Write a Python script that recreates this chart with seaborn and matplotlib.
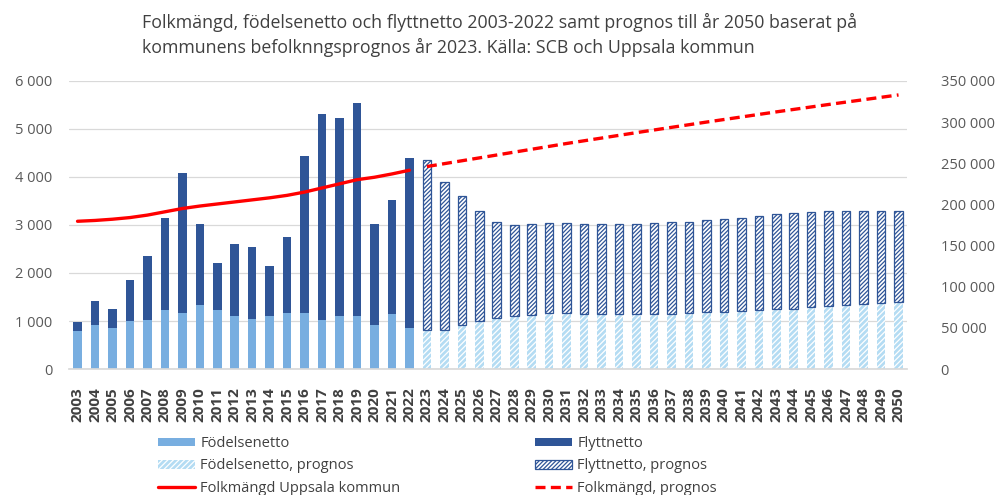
import matplotlib
matplotlib.use("Agg")
import matplotlib.pyplot as plt
import matplotlib.patches as mpatches
from matplotlib.lines import Line2D
from matplotlib.ticker import FuncFormatter, MultipleLocator
import pandas as pd
import seaborn as sns

# ---- data -------------------------------------------------------------
years_hist = [str(y) for y in range(2003, 2023)]
years_prog = [str(y) for y in range(2023, 2051)]

fodelsenetto = [790, 920, 860, 990, 1030, 1220, 1160, 1330, 1220, 1110,
                1040, 1110, 1170, 1170, 1020, 1110, 1110, 920, 1140, 850]
flyttnetto = [190, 500, 380, 870, 1320, 1930, 2920, 1700, 990, 1490,
              1500, 1030, 1590, 3260, 4300, 4120, 4430, 2090, 2370, 3550]

fodelsenetto_prognos = [810, 810, 910, 1010, 1060, 1100, 1130, 1170, 1170, 1150,
                        1150, 1150, 1150, 1150, 1150, 1170, 1180, 1190, 1210, 1220,
                        1250, 1260, 1290, 1310, 1340, 1350, 1380, 1390]
flyttnetto_prognos = [3550, 3080, 2690, 2290, 2010, 1890, 1890, 1870, 1870, 1860,
                      1860, 1860, 1870, 1890, 1910, 1900, 1920, 1940, 1940, 1960,
                      1970, 1980, 1980, 1980, 1960, 1950, 1920, 1910]

folkmangd = [179500, 180500, 182000, 184000, 187000, 191000, 195000, 198000,
             200500, 203000, 205500, 208000, 211000, 215000, 220000, 225000,
             230000, 233000, 237000, 241500]
folkmangd_prognos = [246000, 249500, 253000, 256500, 260000, 263500, 267000,
                     270500, 274000, 277300, 280600, 283900, 287200, 290400,
                     293600, 296800, 300000, 303100, 306200, 309300, 312400,
                     315400, 318400, 321400, 324300, 327200, 330100, 333000]

title_lines = ["Folkmängd, födelsenetto och flyttnetto 2003-2022 samt prognos till år 2050 baserat på",
               "kommunens befolknngsprognos år 2023. Källa: SCB och Uppsala kommun"]

all_years = years_hist + years_prog

hist = pd.DataFrame({"year": years_hist, "fodd": fodelsenetto, "flytt": flyttnetto})
prog = pd.DataFrame({"year": years_prog, "fodd": fodelsenetto_prognos, "flytt": flyttnetto_prognos})

# ---- style ------------------------------------------------------------
sns.set_theme(style="white")
plt.rcParams["font.family"] = ["Open Sans", "DejaVu Sans"]
plt.rcParams["hatch.linewidth"] = 0.9

C_FODD = "#78AEE0"
C_FLYTT = "#2F5597"
C_FODD_P = "#B4DCF3"
C_FLYTT_P = "#FFFFFF"
C_RED = "#FF0000"
C_TEXT = "#404040"
C_TICK = "#595959"
C_GRID = "#D9D9D9"
HATCH_FODD = "/" * 6
HATCH_FLYTT = "/" * 8

fig = plt.figure(figsize=(9.97, 4.95), dpi=100)
ax = fig.add_axes([0.069, 0.2545, 0.841, 0.582])
bw = 0.49

# stacked bars: births at the bottom, net migration on top of them
sns.barplot(data=hist, x="year", y="fodd", order=all_years, color=C_FODD,
            saturation=1, width=bw, errorbar=None, linewidth=0, ax=ax)
sns.barplot(data=hist, x="year", y="flytt", order=all_years, color=C_FLYTT,
            saturation=1, width=bw, errorbar=None, linewidth=0,
            bottom=hist["fodd"].to_numpy(), ax=ax)
sns.barplot(data=prog, x="year", y="fodd", order=all_years, color=C_FODD_P,
            saturation=1, width=bw, errorbar=None, edgecolor="white",
            linewidth=0, hatch=HATCH_FODD, ax=ax)
sns.barplot(data=prog, x="year", y="flytt", order=all_years, color=C_FLYTT_P,
            saturation=1, width=bw, errorbar=None, edgecolor=C_FLYTT,
            linewidth=0.9, hatch=HATCH_FLYTT, bottom=prog["fodd"].to_numpy(), ax=ax)

ax.set_ylim(0, 6000)
ax.yaxis.set_major_locator(MultipleLocator(1000))
fmt = FuncFormatter(lambda v, p: f"{int(round(v)):,}".replace(",", " "))
ax.yaxis.set_major_formatter(fmt)
ax.yaxis.grid(True, color=C_GRID, lw=0.9)
ax.set_axisbelow(True)
for s in ax.spines.values():
    s.set_visible(False)
ax.spines["bottom"].set_visible(True)
ax.spines["bottom"].set_color(C_GRID)
ax.set_xlabel("")
ax.set_ylabel("")
ax.tick_params(axis="y", length=0, labelsize=10.5, labelcolor=C_TICK, pad=12)
ax.tick_params(axis="x", length=0, labelsize=11, labelcolor=C_TEXT, pad=13)
for lbl in ax.get_xticklabels():
    lbl.set_rotation(90)
    lbl.set_fontweight("bold")

# population on secondary axis
ax2 = ax.twinx()
pos_hist = [all_years.index(y) for y in years_hist]
pos_prog = [all_years.index(y) for y in years_prog]
sns.lineplot(x=pos_hist, y=folkmangd, color=C_RED, lw=2.4, ax=ax2)
sns.lineplot(x=pos_prog, y=folkmangd_prognos, color=C_RED, lw=2.4, ax=ax2)
ax2.lines[-1].set_linestyle((0, (3.0, 1.6)))
ax2.set_ylim(0, 350000)
ax2.yaxis.set_major_locator(MultipleLocator(50000))
ax2.yaxis.set_major_formatter(fmt)
ax2.tick_params(axis="y", length=0, labelsize=10.5, labelcolor=C_TICK, pad=24)
for s in ax2.spines.values():
    s.set_visible(False)
ax2.set_ylabel("")
ax2.grid(False)
ax.set_xlim(-0.5, len(all_years) - 0.5)

# title
fig.text(0.1424, 0.930, "\n".join(title_lines), ha="left", va="center",
         fontsize=12.8, color=C_TEXT, linespacing=1.4)

# legend, two columns
h_fodd = mpatches.Patch(facecolor=C_FODD, edgecolor="none")
h_flytt = mpatches.Patch(facecolor=C_FLYTT, edgecolor="none")
h_fodd_p = mpatches.Patch(facecolor=C_FODD_P, edgecolor="white", lw=0, hatch=HATCH_FODD)
h_flytt_p = mpatches.Patch(facecolor=C_FLYTT_P, edgecolor=C_FLYTT, lw=0.9, hatch=HATCH_FLYTT)
h_pop = Line2D([], [], color=C_RED, lw=2.4)
h_pop_p = Line2D([], [], color=C_RED, lw=2.4, linestyle=(0, (3.0, 1.6)))

leg_kw = dict(loc="upper left", frameon=False, fontsize=10.5, labelcolor=C_TEXT,
              borderpad=0, borderaxespad=0, handlelength=2.55, handleheight=0.55,
              handletextpad=0.35, labelspacing=0.5)
fig.legend([h_fodd, h_fodd_p, h_pop],
           ["Födelsenetto", "Födelsenetto, prognos", "Folkmängd Uppsala kommun"],
           bbox_to_anchor=(0.1585, 0.119), **leg_kw)
fig.legend([h_flytt, h_flytt_p, h_pop_p],
           ["Flyttnetto", "Flyttnetto, prognos", "Folkmängd, prognos"],
           bbox_to_anchor=(0.5366, 0.119), **leg_kw)

fig.savefig("out.png", dpi=100)
